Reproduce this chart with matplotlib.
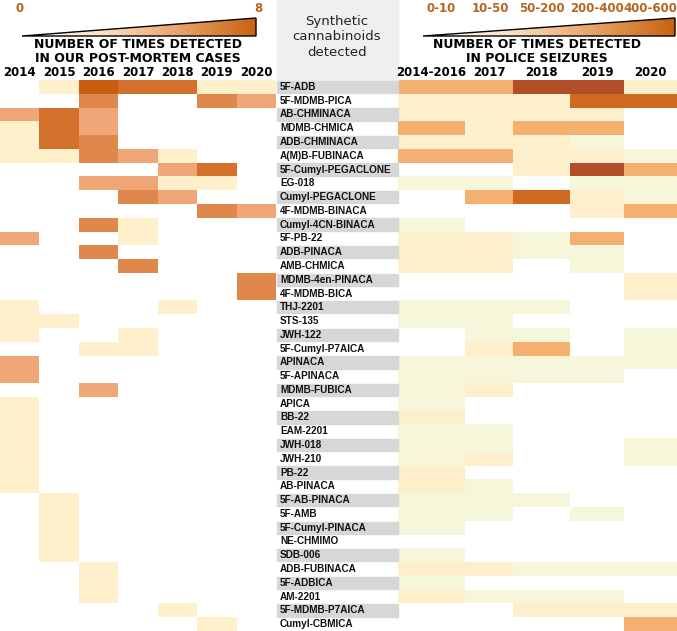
import numpy as np
import matplotlib
matplotlib.use("Agg")
import matplotlib.pyplot as plt
from matplotlib.colors import ListedColormap, BoundaryNorm
from matplotlib.patches import Polygon, Rectangle

compounds = ["5F-ADB","5F-MDMB-PICA","AB-CHMINACA","MDMB-CHMICA","ADB-CHMINACA","A(M)B-FUBINACA",
"5F-Cumyl-PEGACLONE","EG-018","Cumyl-PEGACLONE","4F-MDMB-BINACA","Cumyl-4CN-BINACA","5F-PB-22",
"ADB-PINACA","AMB-CHMICA","MDMB-4en-PINACA","4F-MDMB-BICA","THJ-2201","STS-135","JWH-122",
"5F-Cumyl-P7AICA","APINACA","5F-APINACA","MDMB-FUBICA","APICA","BB-22","EAM-2201","JWH-018",
"JWH-210","PB-22","AB-PINACA","5F-AB-PINACA","5F-AMB","5F-Cumyl-PINACA","NE-CHMIMO","SDB-006",
"ADB-FUBINACA","5F-ADBICA","AM-2201","5F-MDMB-P7AICA","Cumyl-CBMICA"]
pm_years = ["2014","2015","2016","2017","2018","2019","2020"]
seiz_years = ["2014-2016","2017","2018","2019","2020"]
seiz_legend = ["0-10","10-50","50-200","200-400","400-600"]

postmortem = [
[0,1,5,4,4,1,1],[0,0,3,0,0,3,2],[2,4,2,0,0,0,0],[1,4,2,0,0,0,0],[1,4,3,0,0,0,0],
[1,1,3,2,1,0,0],[0,0,0,0,2,4,0],[0,0,2,2,1,1,0],[0,0,0,3,2,0,0],[0,0,0,0,0,3,2],
[0,0,3,1,0,0,0],[2,0,0,1,0,0,0],[0,0,3,0,0,0,0],[0,0,0,3,0,0,0],[0,0,0,0,0,0,3],
[0,0,0,0,0,0,3],[1,0,0,0,1,0,0],[1,1,0,0,0,0,0],[1,0,0,1,0,0,0],[0,0,1,1,0,0,0],
[2,0,0,0,0,0,0],[2,0,0,0,0,0,0],[0,0,2,0,0,0,0],[1,0,0,0,0,0,0],[1,0,0,0,0,0,0],
[1,0,0,0,0,0,0],[1,0,0,0,0,0,0],[1,0,0,0,0,0,0],[1,0,0,0,0,0,0],[1,0,0,0,0,0,0],
[0,1,0,0,0,0,0],[0,1,0,0,0,0,0],[0,1,0,0,0,0,0],[0,1,0,0,0,0,0],[0,1,0,0,0,0,0],
[0,0,1,0,0,0,0],[0,0,1,0,0,0,0],[0,0,1,0,0,0,0],[0,0,0,0,1,0,0],[0,0,0,0,0,1,0]]
seizures = [
[3,3,5,5,2],[2,2,2,4,4],[2,2,2,2,0],[3,2,3,3,0],[2,2,2,1,0],[3,3,2,2,1],[0,0,2,5,3],
[1,1,0,1,1],[0,3,4,2,1],[0,0,0,2,3],[1,0,0,0,0],[2,2,1,3,0],[2,2,1,1,0],[2,2,0,1,0],
[0,0,0,0,2],[0,0,0,0,2],[1,1,1,0,0],[1,1,0,0,0],[0,1,1,0,1],[0,2,3,0,1],[1,1,1,1,1],
[1,1,1,1,0],[1,2,0,0,0],[1,0,0,0,0],[2,0,0,0,0],[1,1,0,0,0],[1,1,0,0,1],[1,2,0,0,1],
[2,0,0,0,0],[2,1,0,0,0],[1,1,1,0,0],[1,1,0,1,0],[1,0,0,0,0],[0,0,0,0,0],[1,0,0,0,0],
[2,2,1,1,1],[1,0,0,0,0],[2,1,1,1,0],[0,0,2,2,2],[0,0,0,0,3]]

W, H = 677, 631
fig = plt.figure(figsize=(W/100, H/100), dpi=100)
ax = fig.add_axes([0, 0, 1, 1])
ax.set_xlim(0, W); ax.set_ylim(H, 0); ax.axis("off")

top, bottom = 80, 631
n = len(compounds)
yedges = np.linspace(top, bottom, n + 1)
left_x = np.linspace(0, 276, len(pm_years) + 1)
right_x = np.array([398, 465, 513, 570, 624, 677])

cm_pm = ListedColormap(["#ffffff", "#fdf0cb", "#f0a676", "#e0884c", "#d2702c", "#c95d12"])
cm_sz = ListedColormap(["#ffffff", "#f5f6da", "#fdefcb", "#f4b070", "#d06a20", "#b24f28"])
norm = BoundaryNorm(np.arange(-0.5, 6.5, 1), 6)
ax.pcolormesh(left_x, yedges, np.array(postmortem), cmap=cm_pm, norm=norm)
ax.pcolormesh(right_x, yedges, np.array(seizures), cmap=cm_sz, norm=norm)

# centre header and labels
ax.add_patch(Rectangle((277, 0), 121, top, color="#efefef", zorder=1))
for i, c in enumerate(compounds):
    y0 = yedges[i]
    if i % 2 == 0:
        ax.add_patch(Rectangle((277, y0 + 0.7), 121, yedges[i+1] - y0 - 1.4, color="#d7d7d7", zorder=1))
    ax.text(280, (y0 + yedges[i+1]) / 2, c, fontsize=7.2, fontweight="bold", va="center", ha="left",
            family="Liberation Sans Narrow" if False else "DejaVu Sans Condensed" if False else "Liberation Sans",
            zorder=2, color="#111111")
ax.text(337, 37, "Synthetic\ncannabinoids\ndetected", ha="center", va="center", fontsize=9.5,
        linespacing=1.3, color="#222222")

# year labels
for i, yname in enumerate(pm_years):
    ax.text((left_x[i] + left_x[i+1]) / 2, 73, yname, ha="center", va="center", fontsize=8.5, fontweight="bold")
for i, yname in enumerate(seiz_years):
    ax.text((right_x[i] + right_x[i+1]) / 2, 73, yname, ha="center", va="center", fontsize=8.5, fontweight="bold")

# titles
ax.text(138, 51, "NUMBER OF TIMES DETECTED\nIN OUR POST-MORTEM CASES", ha="center", va="center",
        fontsize=9, fontweight="bold", linespacing=1.1)
ax.text(537, 51, "NUMBER OF TIMES DETECTED\nIN POLICE SEIZURES", ha="center", va="center",
        fontsize=9, fontweight="bold", linespacing=1.1)

# gradient wedges
def wedge(x0, x1, y_top, y_bot):
    grad = np.linspace(0, 1, 256).reshape(1, -1)
    from matplotlib.colors import LinearSegmentedColormap
    cm = LinearSegmentedColormap.from_list("g", ["#ffffff", "#fbe3c8", "#e9a46a", "#c8620e"])
    im = ax.imshow(grad, extent=[x0, x1, y_bot, y_top], aspect="auto", cmap=cm, zorder=3)
    poly = Polygon([[x0, y_bot], [x1, y_top], [x1, y_bot]], closed=True, transform=ax.transData)
    im.set_clip_path(poly)
    ax.add_patch(Polygon([[x0, y_bot], [x1, y_top], [x1, y_bot]], closed=True, fill=False,
                         edgecolor="black", lw=1.0, zorder=4))
wedge(22, 256, 18, 36)
wedge(423, 675, 18, 36)
ax.set_xlim(0, W); ax.set_ylim(H, 0)

lc = "#b5651d"
ax.text(20, 8, "0", ha="center", va="center", fontsize=8.5, fontweight="bold", color=lc)
ax.text(258, 8, "8", ha="center", va="center", fontsize=8.5, fontweight="bold", color=lc)
for lab, x in zip(seiz_legend, [441, 490, 542, 597, 650]):
    ax.text(x, 8, lab, ha="center", va="center", fontsize=8.5, fontweight="bold", color=lc)

fig.savefig("out.png", dpi=100)
